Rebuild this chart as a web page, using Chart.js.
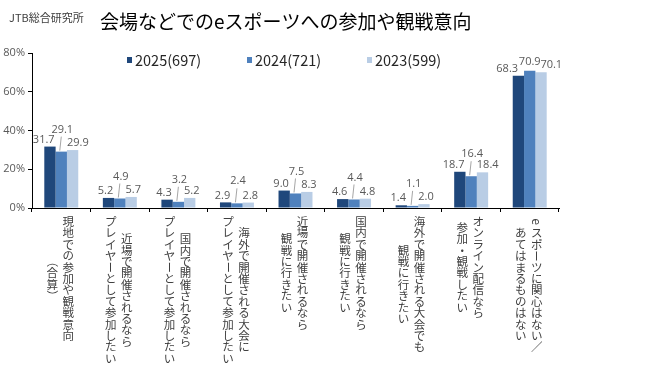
<!DOCTYPE html>
<html><head><meta charset="utf-8">
<script src="https://cdn.jsdelivr.net/npm/chart.js@4.4.1/dist/chart.umd.min.js"></script>
<style>html,body{margin:0;padding:0;background:#fff}#wrap{width:657px;height:366px;position:relative}</style>
</head><body><div id="wrap"><canvas id="c" width="657" height="366"></canvas></div>
<script>
const chartTitle = "会場などでのeスポーツへの参加や観戦意向";
const sourceLabel = "JTB総合研究所";
const categories = [
  ["現地での参加や観戦意向", "（合算）"],
  ["近場で開催されるなら", "プレイヤーとして参加したい"],
  ["国内で開催されるなら", "プレイヤーとして参加したい"],
  ["海外で開催される大会に", "プレイヤーとして参加したい"],
  ["近場で開催されるなら", "観戦に行きたい"],
  ["国内で開催されるなら", "観戦に行きたい"],
  ["海外で開催される大会でも", "観戦に行きたい"],
  ["オンライン配信なら", "参加・観戦したい"],
  ["eスポーツに関心はない／", "あてはまるものはない"]
];
const seriesNames = ["2025(697)", "2024(721)", "2023(599)"];
const values2025 = [31.7, 5.2, 4.3, 2.9, 9.0, 4.6, 1.4, 18.7, 68.3];
const values2024 = [29.1, 4.9, 3.2, 2.4, 7.5, 4.4, 1.1, 16.4, 70.9];
const values2023 = [29.9, 5.7, 5.2, 2.8, 8.3, 4.8, 2.0, 18.4, 70.1];
const yTickValues = [0, 20, 40, 60, 80];

const colors = ["#1f477b", "#4f81bd", "#b9cde5"];
const CJK = '"Noto Sans CJK JP", sans-serif';
const NUM = '"Open Sans", "Noto Sans", sans-serif';

const ROT = new Set(["ー", "（", "）", "e"]);
const SMALL = new Set(["ャ", "ッ", "ゃ", "っ", "ょ", "ィ", "ェ"]);

function drawVertical(ctx, text, x, top, step) {
  Array.from(text).forEach((ch, k) => {
    const cy = top + step * (k + 0.5);
    ctx.save();
    ctx.translate(x, cy);
    if (ROT.has(ch)) ctx.rotate(Math.PI / 2);
    else if (SMALL.has(ch)) ctx.translate(1.5, -1.5);
    ctx.fillText(ch, 0, 0);
    ctx.restore();
  });
}

const decorPlugin = {
  id: "decor",
  beforeDraw(chart) {
    const ctx = chart.ctx;
    ctx.save();
    ctx.fillStyle = "#fff";
    ctx.fillRect(0, 0, chart.width, chart.height);
    ctx.restore();
  },
  afterDraw(chart) {
    const ctx = chart.ctx;
    ctx.save();
    ctx.textBaseline = "middle";
    ctx.textAlign = "left";
    ctx.fillStyle = "#404040";
    ctx.font = "11px " + CJK;
    ctx.fillText(sourceLabel, 9, 18);
    ctx.fillStyle = "#000";
    ctx.font = "19px " + CJK;
    ctx.fillText(chartTitle, 100, 22);

    // legend
    ctx.font = "14.5px " + CJK;
    chart.data.datasets.forEach((ds, k) => {
      const x0 = 127 + k * 120;
      ctx.fillStyle = ds.backgroundColor;
      ctx.fillRect(x0, 57, 5, 6);
      ctx.fillStyle = "#262626";
      ctx.fillText(ds.label, x0 + 8, 60.5);
    });

    // vertical category labels
    const xs = chart.scales.x;
    ctx.fillStyle = "#404040";
    ctx.font = "11.5px " + CJK;
    ctx.textAlign = "center";
    const step = 11.4, top = 216, gap = 16;
    categories.forEach((lines, i) => {
      const cx = xs.getPixelForValue(i);
      const n = lines.length;
      const maxLen = Math.max(...lines.map(l => Array.from(l).length));
      lines.forEach((line, j) => {
        const len = Array.from(line).length;
        const colX = cx - 1 + (n - 1) / 2 * gap - j * gap;
        drawVertical(ctx, line, colX, top + (maxLen - len) * step / 2, step);
      });
    });
    ctx.restore();
  }
};

const labelPlugin = {
  id: "barLabels",
  afterDatasetsDraw(chart) {
    const ctx = chart.ctx;
    ctx.save();
    ctx.font = "11px " + NUM;
    ctx.fillStyle = "#595959";
    ctx.textBaseline = "middle";
    const m0 = chart.getDatasetMeta(0).data;
    const m1 = chart.getDatasetMeta(1).data;
    const m2 = chart.getDatasetMeta(2).data;
    const d = chart.data.datasets;
    for (let j = 0; j < m0.length; j++) {
      const midIsMax = d[1].data[j] >= d[0].data[j] && d[1].data[j] >= d[2].data[j];
      const spread = midIsMax ? 5 : 0;
      const b0 = m0[j], b1 = m1[j], b2 = m2[j];
      ctx.textAlign = "right";
      ctx.fillText(d[0].data[j].toFixed(1), b0.x + b0.width / 2 - 1 - spread, b0.y - 7);
      ctx.textAlign = "left";
      ctx.fillText(d[2].data[j].toFixed(1), b2.x - b2.width / 2 + spread, b2.y - 7);
      ctx.textAlign = "center";
      if (midIsMax) {
        ctx.fillText(d[1].data[j].toFixed(1), b1.x, b1.y - 9);
      } else {
        const ly = b1.y - 22;
        ctx.fillText(d[1].data[j].toFixed(1), b1.x + 1, ly);
        ctx.strokeStyle = "#a6a6a6";
        ctx.lineWidth = 1;
        ctx.beginPath();
        ctx.moveTo(b1.x, ly + 7);
        ctx.lineTo(b1.x - 1.5, b1.y - 1);
        ctx.stroke();
      }
    }
    ctx.restore();
  }
};

new Chart(document.getElementById("c"), {
  type: "bar",
  data: {
    labels: categories.map(l => l.join("")),
    datasets: [
      { label: seriesNames[0], data: values2025, backgroundColor: colors[0] },
      { label: seriesNames[1], data: values2024, backgroundColor: colors[1] },
      { label: seriesNames[2], data: values2023, backgroundColor: colors[2] }
    ]
  },
  options: {
    responsive: false,
    devicePixelRatio: 1,
    animation: false,
    layout: { padding: { top: 53, right: 98, bottom: 0, left: 0 } },
    datasets: { bar: { categoryPercentage: 0.58, barPercentage: 1.0, borderWidth: 0 } },
    plugins: { legend: { display: false }, title: { display: false }, tooltip: { enabled: false } },
    scales: {
      x: {
        grid: { display: true, offset: true, drawOnChartArea: false, drawTicks: true, tickLength: 4, color: "#000" },
        border: { display: true, color: "#000", width: 1 },
        ticks: { display: false },
        afterFit: s => { s.height = 158; }
      },
      y: {
        min: 0, max: 80,
        afterBuildTicks: s => { s.ticks = yTickValues.map(v => ({ value: v })); },
        grid: { display: true, drawOnChartArea: false, drawTicks: true, tickLength: 4, color: "#000" },
        border: { display: true, color: "#000", width: 1 },
        ticks: { callback: v => v + "%", color: "#595959", font: { family: NUM, size: 11 }, padding: 3 },
        afterFit: s => { s.width = 32; }
      }
    }
  },
  plugins: [decorPlugin, labelPlugin]
});
</script>
</body></html>
